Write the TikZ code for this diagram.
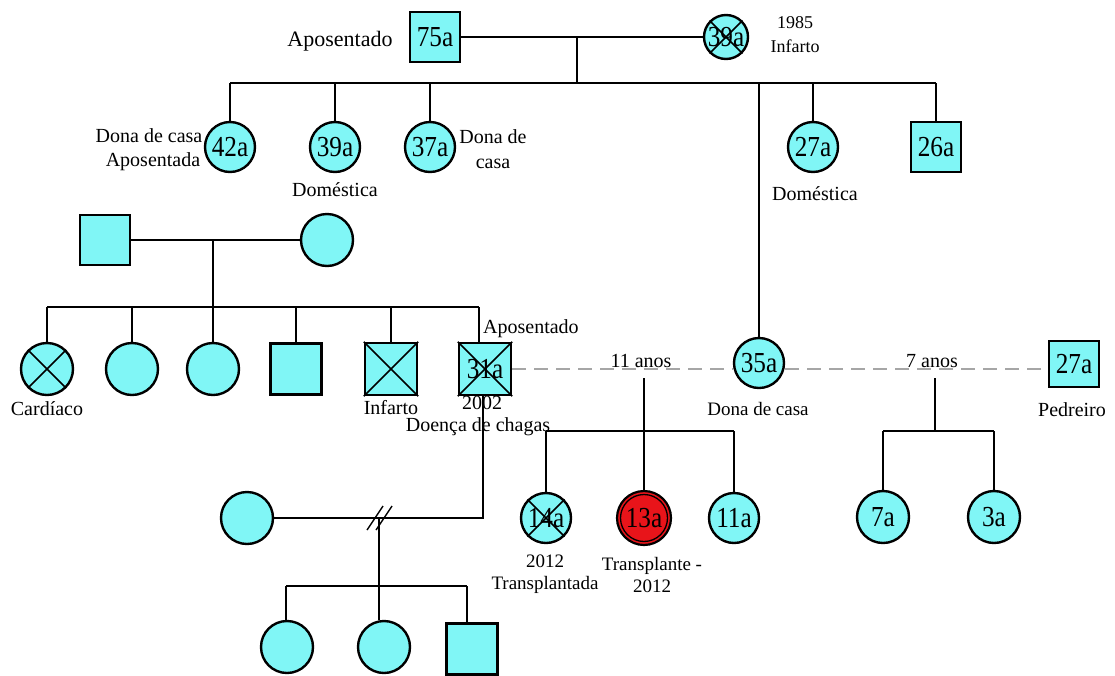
\documentclass[tikz,border=0pt]{standalone}
\usepackage{fontspec}
\setmainfont{Liberation Serif}
\newfontfamily\agefont[FakeStretch=0.87]{Liberation Serif}
\usetikzlibrary{backgrounds}
\definecolor{aqua}{HTML}{80F6F6}
\definecolor{redfill}{HTML}{E8141A}
\begin{document}
\begin{tikzpicture}[x=1pt,y=-1pt,
  person/.style={draw=black, line width=2.4pt, fill=aqua, inner sep=0pt, font=\agefont\fontsize{29}{29}\selectfont},
  fem/.style={person, circle, minimum size=50pt},
  male/.style={person, rectangle, minimum width=50pt, minimum height=50pt},
  conn/.style={line width=1.6pt, draw=black},
  crossline/.style={line width=1.6pt, draw=black},
  sepline/.style={line width=1.5pt, draw=black!35, dash pattern=on 14pt off 8pt},
  lbl/.style={font=\fontsize{20}{24}\selectfont, inner sep=0pt, anchor=base},
  smalllbl/.style={lbl, font=\fontsize{18}{22}\selectfont},
]
\useasboundingbox (0,0) rectangle (1115,675);

% ---------- generation I ----------
\node[male] (g75) at (435,37) {75a};
\node[fem, minimum size=44pt] (g39) at (726,37) {39a};
\coordinate (gm) at (577,37);
\coordinate (s1) at (577,83);

% ---------- generation II (top family) ----------
\node[fem] (c42) at (230,147) {42a};
\node[fem] (c39) at (335,147) {39a};
\node[fem] (c37) at (430,147) {37a};
\node[fem] (c27) at (813,147) {27a};
\node[male] (c26) at (936,147) {26a};
\node[fem] (c35) at (759,363) {35a};

% ---------- other family ----------
\node[male] (pA) at (105,240) {};
\node[fem, minimum size=52pt] (pB) at (327,240) {};
\coordinate (pm) at (213,240);
\coordinate (s2) at (213,307);
\node[fem, minimum size=52pt] (k1) at (47,369) {};
\node[fem, minimum size=52pt] (k2) at (132,369) {};
\node[fem, minimum size=52pt] (k3) at (213,369) {};
\node[male, minimum size=51pt] (k4) at (296,369) {};
\node[male, minimum size=52pt] (k5) at (391,369) {};
\node[male, minimum size=52pt] (k31) at (485,369) {31a};
\coordinate (d31) at (479,307);

% ---------- partners of 35a ----------
\node[male, minimum height=46pt] (m27) at (1074,364) {27a};

% ---------- children of 31a and 35a ----------
\coordinate (t11) at (644,378);
\coordinate (s3) at (644,431);
\node[fem] (c14) at (546,518) {14a};
\node[circle, draw=black, line width=2.2pt, fill=redfill, minimum size=54pt, inner sep=0pt] (c13) at (644,518) {};
\node[circle, draw=black, line width=1.3pt, minimum size=47pt, inner sep=0pt, font=\agefont\fontsize{29}{29}\selectfont] (c13in) at (644,518) {13a};
\node[fem] (c11) at (734,518) {11a};

% ---------- children of 35a and 27a ----------
\coordinate (t7) at (935,378);
\coordinate (s4) at (935,431);
\node[fem, minimum size=52pt] (c7) at (883,517) {7a};
\node[fem, minimum size=52pt] (c3) at (994,517) {3a};

% ---------- second relationship of 31a ----------
\node[fem, minimum size=52pt] (ex) at (247,518) {};
\coordinate (q) at (483,518);
\coordinate (dm) at (379,518);
\coordinate (s5) at (379,586);
\node[fem, minimum size=52pt] (b1) at (287,647) {};
\node[fem, minimum size=52pt] (b2) at (384,647) {};
\node[male, minimum size=51pt] (b3) at (472,649) {};
\coordinate (b1d) at (286,586);
\coordinate (b3d) at (467,586);

% ---------- crosses ----------
\draw[crossline] (g39.45) -- (g39.225) (g39.135) -- (g39.315);
\draw[crossline] (k1.45) -- (k1.225) (k1.135) -- (k1.315);
\draw[crossline] (c14.45) -- (c14.225) (c14.135) -- (c14.315);
\draw[crossline] (k5.north west) -- (k5.south east) (k5.north east) -- (k5.south west);
\draw[crossline] (k31.north west) -- (k31.south east) (k31.north east) -- (k31.south west);

% ---------- connectors ----------
\begin{scope}[on background layer]
\draw[conn] (g75.east) -- (g39.west);
\draw[conn] (gm) -- (s1);
\draw[conn] (c42 |- s1) -- (c26 |- s1);
\foreach \n in {c42,c39,c37,c27,c26,c35} \draw[conn] (\n |- s1) -- (\n.north);

\draw[conn] (pA) -- (pB);
\draw[conn] (pm) -- (s2);
\draw[conn] (k1 |- s2) -- (d31);
\foreach \n in {k1,k2,k3,k4,k5} \draw[conn] (\n |- s2) -- (\n.north);
\draw[conn] (d31) -- (d31 |- k31.north);

\draw[sepline] (k31.east) -- (k31.east -| c35.west);
\draw[sepline] (k31.east -| c35.east) -- (k31.east -| m27.west);

\draw[conn] (t11) -- (s3);
\draw[conn] (c14 |- s3) -- (c11 |- s3);
\foreach \n in {c14,c13,c11} \draw[conn] (\n |- s3) -- (\n.north);

\draw[conn] (t7) -- (s4);
\draw[conn] (c7 |- s4) -- (c3 |- s4);
\foreach \n in {c7,c3} \draw[conn] (\n |- s4) -- (\n.north);

\draw[conn] (k31.south -| q) -- (q) -- (ex.east);
\draw[conn] (dm) -- (s5);
\draw[conn] (b1d) -- (b3d);
\draw[conn] (b1d) -- (b1d |- b1.north);
\draw[conn] (s5) -- (s5 |- b2.north);
\draw[conn] (b3d) -- (b3d |- b3.north);
\end{scope}
\draw[line width=1.4pt] (367,530) -- (383,506) (376,530) -- (392,506);

% ---------- labels ----------
\node[lbl, font=\fontsize{22}{26}\selectfont] (lApos) at (340,46) {Aposentado};
\node[smalllbl] (l1985) at (795,28) {1985};
\node[smalllbl] (lInf1) at (795,52) {Infarto};
\node[lbl] (lDona1) at (149,142) {Dona de casa};
\node[lbl] (lApos2) at (153,166) {Aposentada};
\node[lbl] (lDom1) at (335,196) {Doméstica};
\node[lbl] (lDona2) at (493,143) {Dona de};
\node[lbl] (lCasa2) at (493,168) {casa};
\node[lbl] (lDom2) at (815,200) {Doméstica};
\node[lbl] (lCard) at (47,415) {Cardíaco};
\node[lbl] (lInf2) at (391,414) {Infarto};
\node[lbl, anchor=base west] (lApos3) at (483,333) {Aposentado};
\node[lbl] (l2002) at (482,409) {2002};
\node[lbl] (lChagas) at (478,431) {Doença de chagas};
\node[lbl] (l11) at (641,367) {11 anos};
\node[smalllbl, font=\fontsize{19}{22}\selectfont] (lDona3) at (758,415) {Dona de casa};
\node[lbl] (l7) at (932,367) {7 anos};
\node[lbl] (lPed) at (1072,416) {Pedreiro};
\node[smalllbl, font=\fontsize{19}{22}\selectfont] (l2012a) at (545,567) {2012};
\node[smalllbl, font=\fontsize{19}{22}\selectfont] (lTr1) at (545,589) {Transplantada};
\node[smalllbl, font=\fontsize{19}{22}\selectfont] (lTr2) at (652,570) {Transplante -};
\node[smalllbl, font=\fontsize{19}{22}\selectfont] (l2012b) at (652,592) {2012};
\end{tikzpicture}
\end{document}
